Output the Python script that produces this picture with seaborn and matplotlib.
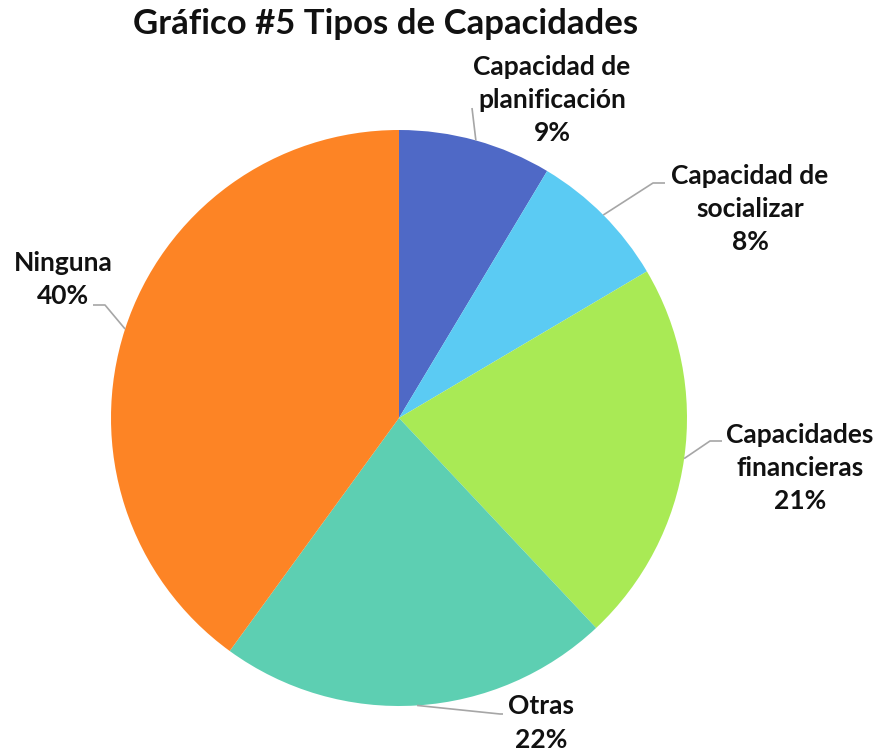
import numpy as np
import matplotlib
matplotlib.use("Agg")
import matplotlib.pyplot as plt
import seaborn as sns

# chart data
categories = ["Capacidad de\nplanificación", "Capacidad de\nsocializar",
              "Capacidades\nfinancieras", "Otras", "Ninguna"]
shares = [8.6, 7.9, 21.5, 22.0, 40.0]
pct_labels = [9, 8, 21, 22, 40]
colors = ["#4F69C6", "#5BCBF3", "#A9EA55", "#5DCFB2", "#FD8425"]

# label layout (pixels in the 880x753 image): text centre, leader elbow
label_px = [(552, 100), (750, 209), (800, 468), (541, 723), (63, 280)]
elbow_px = [(472, 108), (653, 183), (710, 441), (500, 714), (105, 305)]
end_px = [None, (665, 183), (722, 441), (503, 714), (93, 305)]

sns.set_theme(style="white")
plt.rcParams["font.family"] = ["Lato", "DejaVu Sans"]

W, H = 880, 753
cx, cy, R = 399, 418, 288

fig = plt.figure(figsize=(W / 100, H / 100), dpi=100)
ax = fig.add_axes([0, 0, 1, 1])


def to_data(p):
    return ((p[0] - cx) / R, (cy - p[1]) / R)


wedges, _ = ax.pie(shares, colors=colors, startangle=90, counterclock=False,
                   radius=1.0, wedgeprops=dict(linewidth=0))

for w, cat, val, lp, ep, tp in zip(wedges, categories, pct_labels, label_px, elbow_px, end_px):
    mid = np.deg2rad((w.theta1 + w.theta2) / 2)
    edge = (np.cos(mid), np.sin(mid))
    pts = [edge, to_data(ep)]
    if tp is not None:
        pts.append(to_data(tp))
    xs, ys = zip(*pts)
    ax.plot(xs, ys, color="#A6A6A6", lw=1.2, solid_capstyle="butt")
    tx, ty = to_data(lp)
    ax.text(tx, ty, f"{cat}\n{val}%", ha="center", va="center",
            fontsize=19, fontweight="bold", color="#111111", linespacing=1.45)

ax.set_xlim(-cx / R, (W - cx) / R)
ax.set_ylim(-(H - cy) / R, cy / R)
ax.set_aspect("equal")
ax.axis("off")

fig.text(386 / W, 1 - 24 / H, "Gráfico #5 Tipos de Capacidades", ha="center",
         va="center", fontsize=25, fontweight="bold", color="#111111")

fig.savefig("out.png", dpi=100)
